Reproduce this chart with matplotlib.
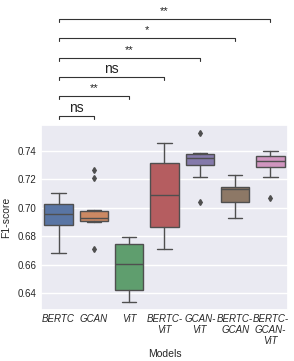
import matplotlib
matplotlib.use("Agg")
import matplotlib.pyplot as plt
import seaborn as sns

# ---- data ----
models = ["BERTC", "GCAN", "ViT", "BERTC-\nViT", "GCAN-\nViT", "BERTC-\nGCAN", "BERTC-\nGCAN-\nViT"]
whislo = [0.6684, 0.6900, 0.6340, 0.6710, 0.7213, 0.6930, 0.7213]
q1 = [0.6874, 0.6905, 0.6422, 0.6860, 0.7300, 0.7038, 0.7288]
med = [0.6954, 0.6923, 0.6603, 0.7089, 0.7351, 0.7131, 0.7328]
q3 = [0.7024, 0.6975, 0.6743, 0.7311, 0.7377, 0.7143, 0.7365]
whishi = [0.7100, 0.6984, 0.6794, 0.7456, 0.7380, 0.7227, 0.7396]
fliers = [[], [0.7265, 0.7204, 0.6710], [], [], [0.7522, 0.7038], [], [0.7070]]

# significance annotations: (index of other group, label)
pairs = [(1, "ns"), (2, "**"), (3, "ns"), (4, "**"), (5, "*"), (6, "**")]

sns.set_theme(style="darkgrid")
plt.rcParams["font.family"] = ["Liberation Sans", "DejaVu Sans"]

fig = plt.figure(figsize=(2.94, 3.61), dpi=100)
ax = fig.add_axes([0.139, 0.141, 0.841, 0.513])

palette = sns.color_palette("deep", len(models))
colors = [sns.desaturate(c, 0.75) for c in palette]
edge = "#4f4f4f"

stats = []
for i in range(len(models)):
    stats.append(dict(med=med[i], q1=q1[i], q3=q3[i], whislo=whislo[i],
                      whishi=whishi[i], fliers=fliers[i]))

positions = list(range(len(models)))
bp = ax.bxp(stats, positions=positions, widths=0.8, patch_artist=True,
            showfliers=True,
            boxprops=dict(edgecolor=edge, linewidth=1.0),
            medianprops=dict(color=edge, linewidth=1.0),
            whiskerprops=dict(color=edge, linewidth=1.0),
            capprops=dict(color=edge, linewidth=1.0),
            flierprops=dict(marker="d", markersize=3, markerfacecolor=edge,
                            markeredgecolor=edge, linestyle="none"))
for patch, c in zip(bp["boxes"], colors):
    patch.set_facecolor(c)

ax.set_xlim(-0.5, len(models) - 0.5)
ax.set_ylim(0.628, 0.758)
ax.set_yticks([0.64, 0.66, 0.68, 0.70, 0.72, 0.74])
ax.set_yticklabels(["0.64", "0.66", "0.68", "0.70", "0.72", "0.74"], fontsize=7)
ax.set_xticks(positions)
ax.set_xticklabels(models, fontsize=7, style="italic", linespacing=1.1)
ax.xaxis.grid(False)
ax.tick_params(axis="both", length=0, pad=3)
ax.set_xlabel("Models", fontsize=7.5, labelpad=2)
ax.set_ylabel("F1-score", fontsize=7.5, labelpad=5)

# brackets above the axes
trans = ax.get_xaxis_transform()
for k, (j, label) in enumerate(pairs):
    y = 1.049 + 0.1045 * k
    h = 0.016
    ax.plot([0, 0, j, j], [y - h, y, y, y - h], color="#333333", lw=0.8,
            transform=trans, clip_on=False)
    if label == "ns":
        ax.text(j / 2, y + 0.006, label, ha="center", va="bottom", fontsize=10,
                color="#222222", transform=trans, clip_on=False)
    else:
        ax.text(j / 2, y + 0.016, label, ha="center", va="bottom", fontsize=8,
                color="#222222", transform=trans, clip_on=False)

fig.savefig("out.png", dpi=100)
